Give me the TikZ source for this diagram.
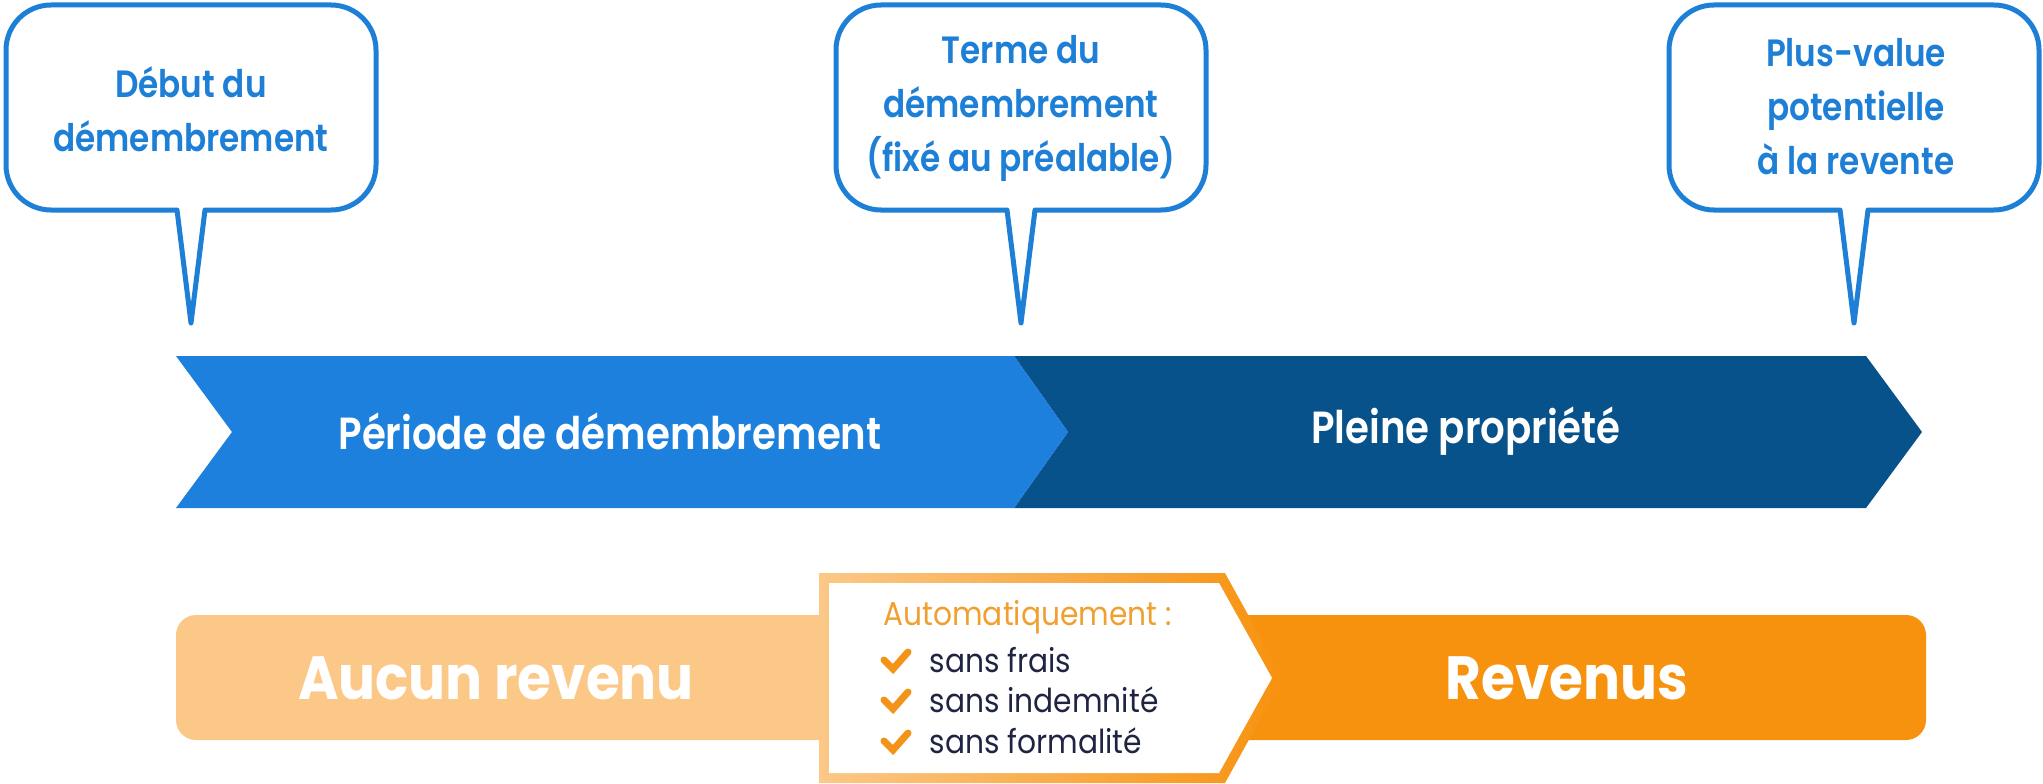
\documentclass[tikz,border=0pt]{standalone}
\usepackage{fontspec}
\setmainfont{Poppins}
\newfontfamily\pop{Poppins}[FakeStretch=0.9]
\IfFontExistsTF{Poppins SemiBold}
  {\newfontfamily\popsb{Poppins SemiBold}[FakeStretch=0.86]}
  {\newfontfamily\popsbfam{Poppins}[FakeStretch=0.86]\newcommand\popsb{\popsbfam\bfseries}}
\newcommand\popb{\pop\bfseries}
\definecolor{calloutblue}{HTML}{1E7FD6}
\definecolor{blueL}{HTML}{1C80DC}
\definecolor{blueD}{HTML}{07528A}
\definecolor{orangeL}{HTML}{FBC887}
\definecolor{orangeD}{HTML}{F7920F}
\definecolor{autoorange}{HTML}{F0A030}
\definecolor{checkorange}{HTML}{F39317}
\definecolor{navy}{HTML}{1E2442}
\tikzset{
  callout/.style={draw=calloutblue, line width=5pt, line join=round, fill=white},
  callouttext/.style={text=calloutblue, align=center, font=\popsb\fontsize{38}{54}\selectfont},
  arrowtext/.style={text=white, font=\popsb\fontsize{45}{54}\selectfont},
  bartext/.style={text=white, font=\popb\fontsize{61}{70}\selectfont},
  autotext/.style={text=autoorange, anchor=base west, font=\pop\fontsize{33}{40}\selectfont},
  itemtext/.style={text=navy, anchor=base west, font=\pop\fontsize{33}{40}\selectfont},
  checkmark/.style={draw=checkorange, line width=7pt, line cap=round, line join=miter}
}
\newcommand\bubble[3]{% cx, tip y, radius
  \draw[callout] (#1+14,210) -- (#1+185-#3,210) arc[start angle=90,end angle=0,radius=#3]
    -- (#1+185,5+#3) arc[start angle=0,end angle=-90,radius=#3]
    -- (#1-185+#3,5) arc[start angle=-90,end angle=-180,radius=#3]
    -- (#1-185,210-#3) arc[start angle=180,end angle=90,radius=#3]
    -- (#1-14,210) -- (#1,#2) -- cycle;}
\begin{document}
\begin{tikzpicture}[x=1pt,y=-1pt]
\useasboundingbox (0,0) rectangle (2043,784);
% callouts
\bubble{191}{323}{45}
\bubble{1021}{323}{45}
\bubble{1854}{323}{45}
\node[callouttext] (c1) at (191,109) {Début du\\démembrement};
\node[callouttext] (c2) at (1021,108) {Terme du\\démembrement\\(fixé au préalable)};
\node[callouttext] (c3) at (1856,107) {Plus-value\\potentielle\\à la revente};
% blue timeline arrow
\fill[blueD] (1014,356) -- (1866,356) -- (1922,432) -- (1866,508) -- (1014,508) -- (1068,432) -- cycle;
\fill[blueL] (176,356) -- (1014,356) -- (1068,432) -- (1014,508) -- (176,508) -- (232,432) -- cycle;
\node[arrowtext] (p1) at (610,431) {Période de démembrement};
\node[arrowtext] (p2) at (1466,431) {Pleine propriété};
% orange bar
\fill[orangeL, rounded corners=20pt] (176,615) rectangle (1100,740);
\fill[orangeD, rounded corners=20pt] (1000,615) rectangle (1926,740);
\node[bartext] (r1) at (496,678) {Aucun revenu};
\node[bartext] (r2) at (1567,678) {Revenus};
% middle box
\shade[left color=orangeL, right color=orangeD] (819,573) -- (1225,573) -- (1283,678) -- (1225,783) -- (819,783) -- cycle;
\fill[white] (829,583) -- (1219,583) -- (1272,678) -- (1219,773) -- (829,773) -- cycle;
\node[autotext] (auto) at (880,625) {Automatiquement :};
\foreach \yb/\nm/\txt in {672/i1/sans frais, 712/i2/sans indemnité, 753/i3/sans formalité}{
  \draw[checkmark] (884,\yb-12) -- (893,\yb-3) -- (908,\yb-20);
  \node[itemtext] (\nm) at (926,\yb) {\txt};
}
\end{tikzpicture}
\end{document}
